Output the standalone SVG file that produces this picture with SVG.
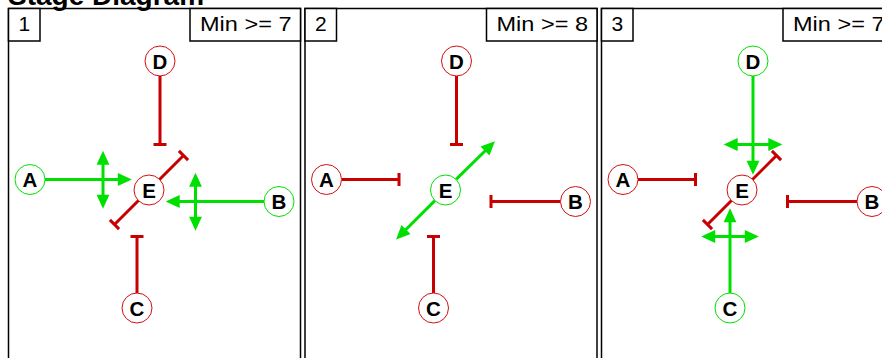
<svg xmlns="http://www.w3.org/2000/svg" width="882" height="358" viewBox="0 0 882 358">
<style>
.frame{fill:none;stroke:#000;stroke-width:1.5}
.lbox{fill:#fff;stroke:#000;stroke-width:1.5}
.ltxt{font-family:"Liberation Sans",Arial,sans-serif;font-size:21px;fill:#000}
.title{font-family:"Liberation Sans",Arial,sans-serif;font-size:28px;font-weight:bold;fill:#000}
.red{stroke:#c80000;stroke-width:3;fill:none}
.grn{stroke:#00e000;stroke-width:3;fill:none}
.stop{marker-end:url(#tbar)}
.go{marker-end:url(#arr)}
.both{marker-start:url(#arr);marker-end:url(#arr)}
.nr circle{fill:#fff;stroke:#d01010;stroke-width:1}
.ng circle{fill:#fff;stroke:#00e000;stroke-width:1}
.node text{font-family:"Liberation Sans",Arial,sans-serif;font-size:20.5px;font-weight:bold;fill:#000;text-anchor:middle}
</style>
<defs>
<marker id="arr" markerUnits="userSpaceOnUse" markerWidth="14" markerHeight="13" viewBox="0 0 12 11" refX="4" refY="5.5" orient="auto-start-reverse" overflow="visible">
<path d="M0,0 L12,5.5 L0,11 z" fill="#00e000"/>
</marker>
<marker id="tbar" markerUnits="userSpaceOnUse" markerWidth="4" markerHeight="15" viewBox="0 0 4 15" refX="2" refY="7.5" orient="auto" overflow="visible">
<path d="M2,1 L2,14" stroke="#c80000" stroke-width="3"/>
</marker>
</defs>
<rect width="882" height="358" fill="#fff"/>
<text class="title" x="8" y="5">Stage Diagram</text>

<g id="frames">
<g id="frame1">
<rect class="frame" x="8.5" y="8.5" width="292" height="400"/>
<rect class="lbox" x="8.5" y="8.5" width="31.5" height="32.5"/>
<text class="ltxt" x="24.25" y="31" text-anchor="middle">1</text>
<rect class="lbox" x="190" y="8.5" width="110.5" height="32.5"/>
<text class="ltxt" x="200" y="31" textLength="91.5" lengthAdjust="spacingAndGlyphs">Min &gt;= 7</text>
</g>
<g id="frame2" transform="translate(296.5,0)">
<rect class="frame" x="8.5" y="8.5" width="292" height="400"/>
<rect class="lbox" x="8.5" y="8.5" width="31.5" height="32.5"/>
<text class="ltxt" x="24.25" y="31" text-anchor="middle">2</text>
<rect class="lbox" x="190" y="8.5" width="110.5" height="32.5"/>
<text class="ltxt" x="200" y="31" textLength="91.5" lengthAdjust="spacingAndGlyphs">Min &gt;= 8</text>
</g>
<g id="frame3" transform="translate(593,0)">
<rect class="frame" x="8.5" y="8.5" width="292" height="400"/>
<rect class="lbox" x="8.5" y="8.5" width="31.5" height="32.5"/>
<text class="ltxt" x="24.25" y="31" text-anchor="middle">3</text>
<rect class="lbox" x="190" y="8.5" width="110.5" height="32.5"/>
<text class="ltxt" x="200" y="31" textLength="91.5" lengthAdjust="spacingAndGlyphs">Min &gt;= 7</text>
</g>
</g>

<g id="connectors">
<g id="conn1">
<line class="red stop" x1="160" y1="76" x2="160" y2="144.5"/>
<line class="red stop" x1="137" y1="293" x2="137" y2="236.5"/>
<line class="grn go" x1="45" y1="179.5" x2="122.5" y2="179.5"/>
<line class="grn both" x1="103" y1="160" x2="103" y2="199.5"/>
<line class="grn go" x1="264" y1="201.5" x2="175" y2="201.5"/>
<line class="grn both" x1="195.5" y1="182" x2="195.5" y2="221.5"/>
<line class="red stop" x1="149" y1="190" x2="183.5" y2="155.5"/>
<line class="red stop" x1="149" y1="190" x2="114.5" y2="224.5"/>
</g>
<g id="conn2" transform="translate(296.5,0)">
<line class="red stop" x1="160" y1="76" x2="160" y2="144.5"/>
<line class="red stop" x1="137" y1="293" x2="137" y2="236.5"/>
<line class="red stop" x1="45" y1="179.5" x2="102.5" y2="179.5"/>
<line class="red stop" x1="264" y1="201.5" x2="194.5" y2="201.5"/>
<line class="grn go" x1="159.6" y1="179.4" x2="191.8" y2="147.7"/>
<line class="grn go" x1="138.4" y1="200.6" x2="106.2" y2="232.8"/>
</g>
<g id="conn3" transform="translate(593,0)">
<line class="grn go" x1="160" y1="76" x2="160" y2="165.5"/>
<line class="grn both" x1="140" y1="144.5" x2="180" y2="144.5"/>
<line class="grn go" x1="137" y1="293" x2="137" y2="217.5"/>
<line class="grn both" x1="117.5" y1="236.5" x2="156.5" y2="236.5"/>
<line class="red stop" x1="45" y1="179.5" x2="102.5" y2="179.5"/>
<line class="red stop" x1="264" y1="201.5" x2="194.5" y2="201.5"/>
<line class="red stop" x1="149" y1="190" x2="183.5" y2="155.5"/>
<line class="red stop" x1="149" y1="190" x2="114.5" y2="224.5"/>
</g>
</g>

<g id="nodes1">
<g id="p1-D" class="node nr"><circle cx="160" cy="61" r="15"/><text x="160" y="68.5">D</text></g>
<g id="p1-A" class="node ng"><circle cx="30" cy="179.5" r="15"/><text x="30" y="187">A</text></g>
<g id="p1-E" class="node nr"><circle cx="149" cy="190" r="15"/><text x="149" y="197.5">E</text></g>
<g id="p1-B" class="node ng"><circle cx="279" cy="201.5" r="15"/><text x="279" y="209">B</text></g>
<g id="p1-C" class="node nr"><circle cx="137" cy="308" r="15"/><text x="137" y="315.5">C</text></g>
</g>
<g id="nodes2" transform="translate(296.5,0)">
<g id="p2-D" class="node nr"><circle cx="160" cy="61" r="15"/><text x="160" y="68.5">D</text></g>
<g id="p2-A" class="node nr"><circle cx="30" cy="179.5" r="15"/><text x="30" y="187">A</text></g>
<g id="p2-E" class="node ng"><circle cx="149" cy="190" r="15"/><text x="149" y="197.5">E</text></g>
<g id="p2-B" class="node nr"><circle cx="279" cy="201.5" r="15"/><text x="279" y="209">B</text></g>
<g id="p2-C" class="node nr"><circle cx="137" cy="308" r="15"/><text x="137" y="315.5">C</text></g>
</g>
<g id="nodes3" transform="translate(593,0)">
<g id="p3-D" class="node ng"><circle cx="160" cy="61" r="15"/><text x="160" y="68.5">D</text></g>
<g id="p3-A" class="node nr"><circle cx="30" cy="179.5" r="15"/><text x="30" y="187">A</text></g>
<g id="p3-E" class="node nr"><circle cx="149" cy="190" r="15"/><text x="149" y="197.5">E</text></g>
<g id="p3-B" class="node nr"><circle cx="279" cy="201.5" r="15"/><text x="279" y="209">B</text></g>
<g id="p3-C" class="node ng"><circle cx="137" cy="308" r="15"/><text x="137" y="315.5">C</text></g>
</g>
</svg>
